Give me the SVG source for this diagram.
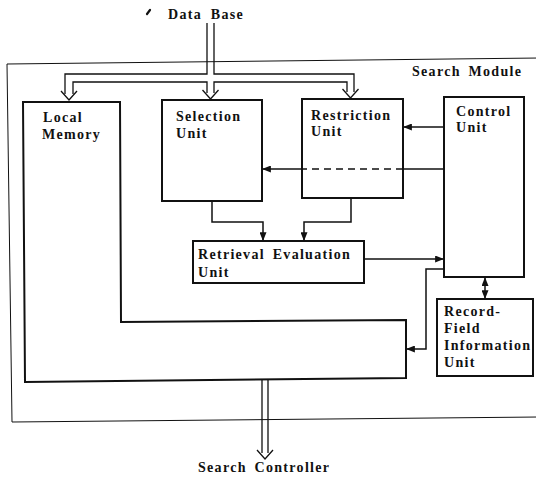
<svg xmlns="http://www.w3.org/2000/svg" width="536" height="480" viewBox="0 0 536 480">
<style>
text{font-family:"Liberation Serif","Times New Roman",serif;font-weight:bold;font-size:14px;letter-spacing:1.3px;fill:#111}
.box{fill:none;stroke:#111;stroke-width:2}
.frame{fill:none;stroke:#111;stroke-width:1}
.ln{fill:none;stroke:#111;stroke-width:1.5}
.bus{fill:none;stroke:#111;stroke-width:1.3}
</style>
<defs>
<marker id="ah" viewBox="0 0 10 8" refX="9" refY="4" markerWidth="9" markerHeight="7" markerUnits="userSpaceOnUse" orient="auto-start-reverse">
<path d="M0,0 L10,4 L0,8 Z" fill="#111"/>
</marker>
</defs>
<rect width="536" height="480" fill="#fff"/>

<g id="frame">
<path class="frame" d="M540,58 L7,64 L12,422 L540,417"/>
<text x="412" y="76" style="word-spacing:3px">Search Module</text>
</g>

<path d="M147,14 L150,10" stroke="#111" stroke-width="2.2" stroke-linecap="round"/>

<g id="database">
<text x="168" y="19" style="word-spacing:4px">Data Base</text>
</g>

<g id="search-controller">
<text x="198" y="472" style="word-spacing:3px">Search Controller</text>
</g>

<g id="local-memory">
<path class="box" d="M23,102 L120,102 L121,322 L406,320 L406,378 L25,382 Z"/>
<text x="43" y="122">Local</text>
<text x="42" y="139">Memory</text>
</g>

<g id="selection-unit">
<rect class="box" x="162" y="100" width="100" height="101"/>
<text x="176" y="121">Selection</text>
<text x="176" y="138">Unit</text>
</g>

<g id="restriction-unit">
<rect class="box" x="302" y="99" width="101" height="99"/>
<text x="311" y="120">Restriction</text>
<text x="311" y="136">Unit</text>
</g>

<g id="control-unit">
<rect class="box" x="444" y="97" width="80" height="180"/>
<text x="456" y="116">Control</text>
<text x="456" y="132">Unit</text>
</g>

<g id="retrieval-evaluation-unit">
<rect class="box" x="193" y="241" width="171" height="42"/>
<text x="198" y="259" style="word-spacing:3px">Retrieval Evaluation</text>
<text x="198" y="277">Unit</text>
</g>

<g id="record-field-information-unit">
<rect class="box" x="437" y="299" width="96" height="77"/>
<text x="444" y="316">Record-</text>
<text x="444" y="333">Field</text>
<text x="444" y="350">Information</text>
<text x="444" y="367">Unit</text>
</g>

<g id="connectors">
<path class="bus" d="M207,23 V74 H65 V94"/>
<path class="bus" d="M214,23 V74 H354 V92"/>
<path class="bus" d="M73,94 V82 H207 V93"/>
<path class="bus" d="M214,93 V82 H347 V92"/>
<path class="bus" d="M61,91 L69,100 L77,91"/>
<path class="bus" d="M202.5,90 L210.5,99 L218.5,90"/>
<path class="bus" d="M342.5,89 L350.5,98 L358.5,89"/>
<path class="bus" d="M262,380 V453 M268,380 V453"/>
<path class="bus" d="M257,450 L265,459 L273,450"/>
<path class="ln" d="M444,127 H404" marker-end="url(#ah)"/>
<path class="ln" d="M444,169 H403"/>
<path class="ln" d="M403,169 H302" stroke-dasharray="7,5"/>
<path class="ln" d="M302,169 H263" marker-end="url(#ah)"/>
<path class="ln" d="M212,201 V222 H263 V240" marker-end="url(#ah)"/>
<path class="ln" d="M351,198 V222 H304 V240" marker-end="url(#ah)"/>
<path class="ln" d="M364,259 H443" marker-end="url(#ah)"/>
<path class="ln" d="M444,269 H426 V349 H407" marker-end="url(#ah)"/>
<path class="ln" d="M485,278 V298" marker-start="url(#ah)" marker-end="url(#ah)"/>
</g>
</svg>
